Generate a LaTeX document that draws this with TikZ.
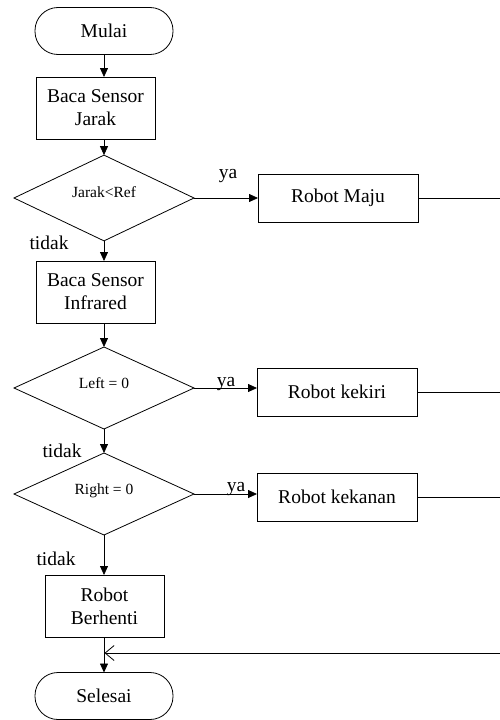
\documentclass[tikz,border=0pt]{standalone}
\usepackage{fontspec}
\setmainfont{Liberation Serif}
\newcommand*{\boxfont}{\rmfamily\fontsize{19.5}{23}\selectfont}
\newcommand*{\testfont}{\rmfamily\fontsize{15.5}{18}\selectfont}
\usepackage{tikz}
\usetikzlibrary{arrows.meta}
\usetikzlibrary{shapes.geometric}
\tikzstyle{base}=[x=1pt, y=-1pt, line width=0.8pt, inner sep=0pt, outer sep=0pt, font=\boxfont]
\tikzstyle{terminal}=[draw, rounded corners=23pt, minimum width=138pt, minimum height=47pt]
\tikzstyle{process}=[draw, align=center, minimum width=119pt, minimum height=62pt]
\tikzstyle{action}=[draw, minimum width=160pt, minimum height=48pt]
\tikzstyle{decision}=[draw, diamond, minimum width=180pt, minimum height=82pt]
\tikzstyle{flow}=[-{Triangle[length=9pt, width=8pt]}]
\tikzstyle{loop}=[-{Straight Barb[length=9pt, width=15pt]}]

\begin{document}
\begin{tikzpicture}[base]
        \path [use as bounding box] (0,0) rectangle (500,720);
        \coordinate (edge) at (500,0);
        \node [terminal] (mulai) at (104,31) {Mulai};
        \node [process] (jarak) at (95.5,108) {Baca Sensor\\Jarak};
        \node [decision] (cekjarak) at (104,198) {\raisebox{11pt}{\testfont Jarak<Ref}};
        \node [action] (maju) at (338,198) {Robot Maju};
        \node [process] (infra) at (95.5,292) {Baca Sensor\\Infrared};
        \node [decision] (cekkiri) at (104,388) {\raisebox{10pt}{\testfont Left = 0}};
        \node [action] (kiri) at (337,392) {Robot kekiri};
        \node [decision] (cekkanan) at (104,494) {\raisebox{10pt}{\testfont Right = 0}};
        \node [action] (kanan) at (337,497) {Robot kekanan};
        \node [process] (henti) at (104.5,606) {Robot\\Berhenti};
        \node [terminal] (selesai) at (104,696) {Selesai};
        \coordinate (back) at (500,653);

        \draw [flow] (mulai) -- (mulai |- jarak.north);
        \draw [flow] (cekjarak |- jarak.south) -- (cekjarak.north);
        \draw [flow] (cekjarak.east) -- (cekjarak.east -| maju.west);
        \draw (maju.east) -- (maju.east -| edge);
        \draw [flow] (cekjarak.south) -- (cekjarak.south |- infra.north);
        \draw [flow] (cekkiri |- infra.south) -- (cekkiri.north);
        \draw [flow] (cekkiri.east) -- (cekkiri.east -| kiri.west);
        \draw (kiri.east) -- (kiri.east -| edge);
        \draw [flow] (cekkiri.south) -- (cekkanan.north);
        \draw [flow] (cekkanan.east) -- (cekkanan.east -| kanan.west);
        \draw (kanan.east) -- (kanan.east -| edge);
        \draw [flow] (cekkanan.south) -- (cekkanan.south |- henti.north);
        \draw [flow] (cekkanan.south |- henti.south) -- (selesai.north);
        \draw [loop] (back) -- (back -| henti.south);

        \node (ya1) at (228,176) {ya};
        \node (ya2) at (226,384) {ya};
        \node (ya3) at (236,489) {ya};
        \node (tidak1) at (49,243) {tidak};
        \node (tidak2) at (62,451) {tidak};
        \node (tidak3) at (56,559) {tidak};
    \end{tikzpicture}
\end{document}
